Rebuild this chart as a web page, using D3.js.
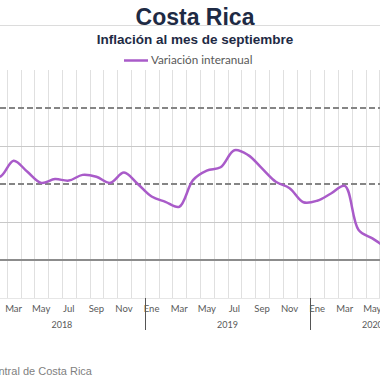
<!DOCTYPE html>
<html>
<head>
<meta charset="utf-8">
<script src="https://cdn.jsdelivr.net/npm/d3@7"></script>
<style>
  body { margin: 0; background: #fff; overflow: hidden; }
  svg { display: block; }
</style>
</head>
<body>
<div id="chart"></div>
<script>
// Months shown on the category axis (Jan 2018 - Sep 2020)
const monthNames = ["Ene", "Feb", "Mar", "Abr", "May", "Jun", "Jul", "Ago", "Sep", "Oct", "Nov", "Dic"];
const years = ["2018", "2019", "2020"];
const monthsPerYear = [12, 12, 9];

// Variación interanual (%)
const inflation = [
  2.35, 2.19, 2.61, 2.32, 2.03, 2.13, 2.09, 2.24, 2.19, 2.03, 2.30, 2.00,
  1.67, 1.53, 1.40, 2.10, 2.35, 2.44, 2.89, 2.76, 2.41, 2.06, 1.89, 1.52,
  1.56, 1.75, 1.95, 0.79, 0.57, 0.35, 0.30, 0.25, 0.30
];

// Target band lines and y-axis gridlines
const targetLines = [2, 4];
const gridValues = [-1, 1, 3];

function init() {
  const width = 380, height = 380;

  const svg = d3.select("#chart")
    .append("svg")
    .attr("width", width)
    .attr("height", height);

  // Build category keys
  const cats = [];
  years.forEach((y, yi) => {
    for (let m = 0; m < monthsPerYear[yi]; m++) {
      cats.push({ key: y + "-" + m, month: m, year: y });
    }
  });

  // Chart is wider than the visible window (cropped at both sides)
  const x = d3.scaleBand()
    .domain(cats.map(d => d.key))
    .range([-20.9, -20.9 + cats.length * 13.8])
    .padding(0);

  const y = d3.scaleLinear()
    .domain([-1, 5])
    .range([298, 70]);

  // thin separator line at top
  svg.append("line")
    .attr("x1", 0).attr("x2", width)
    .attr("y1", 25.5).attr("y2", 25.5)
    .style("stroke", "#dcdcdc")
    .style("stroke-width", 1);

  // vertical gridlines at each month boundary
  const bounds = cats.map(d => x(d.key)).concat([x(cats[cats.length - 1].key) + x.bandwidth()]);
  svg.selectAll(".vgrid")
    .data(bounds)
    .enter()
    .append("line")
    .attr("class", "vgrid")
    .attr("x1", d => Math.round(d) + 0.5)
    .attr("x2", d => Math.round(d) + 0.5)
    .attr("y1", y(5))
    .attr("y2", y(-1))
    .style("stroke", "#e0e0e0")
    .style("stroke-width", 1);

  // horizontal gridlines
  svg.selectAll(".hgrid")
    .data(gridValues)
    .enter()
    .append("line")
    .attr("class", "hgrid")
    .attr("x1", 0).attr("x2", width)
    .attr("y1", d => Math.round(y(d)) + 0.5)
    .attr("y2", d => Math.round(y(d)) + 0.5)
    .style("stroke", d => d === -1 ? "#e6e6e6" : "#c8c8c8")
    .style("stroke-width", 1);

  // dashed target lines
  svg.selectAll(".target")
    .data(targetLines)
    .enter()
    .append("line")
    .attr("class", "target")
    .attr("x1", 0).attr("x2", width)
    .attr("y1", d => y(d))
    .attr("y2", d => y(d))
    .style("stroke", "#858585")
    .style("stroke-width", 2)
    .style("stroke-dasharray", "6,3");

  // zero line
  svg.append("line")
    .attr("x1", 0).attr("x2", width)
    .attr("y1", y(0)).attr("y2", y(0))
    .style("stroke", "#8c8c8c")
    .style("stroke-width", 2);

  // inflation line
  const line = d3.line()
    .x((d, i) => x(cats[i].key) + x.bandwidth() / 2)
    .y(d => y(d))
    .curve(d3.curveCatmullRom.alpha(0.5));

  svg.append("path")
    .datum(inflation)
    .attr("d", line)
    .style("fill", "none")
    .style("stroke", "#a95bc9")
    .style("stroke-width", 2.5);

  // month labels (every other month)
  svg.selectAll(".month")
    .data(cats.filter(d => d.month % 2 === 0))
    .enter()
    .append("text")
    .attr("class", "month")
    .attr("x", d => x(d.key) + x.bandwidth() / 2)
    .attr("y", 312)
    .attr("text-anchor", "middle")
    .style("font-family", "Lato, 'DejaVu Sans', sans-serif")
    .style("font-size", "9.5px")
    .style("fill", "#595959")
    .text(d => monthNames[d.month]);

  // year separators
  const yearStarts = cats.filter(d => d.month === 0).slice(1);
  svg.selectAll(".ysep")
    .data(yearStarts)
    .enter()
    .append("line")
    .attr("class", "ysep")
    .attr("x1", d => Math.round(x(d.key)) + 0.5)
    .attr("x2", d => Math.round(x(d.key)) + 0.5)
    .attr("y1", y(-1))
    .attr("y2", 330)
    .style("stroke", "#555")
    .style("stroke-width", 1);

  // year labels
  svg.selectAll(".year")
    .data(years)
    .enter()
    .append("text")
    .attr("class", "year")
    .attr("x", (d, i) => {
      const yc = cats.filter(c => c.year === d);
      return (x(yc[0].key) + x(yc[yc.length - 1].key) + x.bandwidth()) / 2;
    })
    .attr("y", 328)
    .attr("text-anchor", "middle")
    .style("font-family", "Lato, 'DejaVu Sans', sans-serif")
    .style("font-size", "9px")
    .style("fill", "#595959")
    .text(d => d);

  // titles
  svg.append("text")
    .attr("x", 195).attr("y", 25)
    .attr("text-anchor", "middle")
    .style("font-family", "'Liberation Sans', Arial, sans-serif")
    .style("font-weight", "bold")
    .style("font-size", "23px")
    .style("fill", "#1e2a44")
    .text("Costa Rica");

  svg.append("text")
    .attr("x", 195).attr("y", 44)
    .attr("text-anchor", "middle")
    .style("font-family", "'Liberation Sans', Arial, sans-serif")
    .style("font-weight", "bold")
    .style("font-size", "13.5px")
    .style("fill", "#1e2a44")
    .text("Inflación al mes de septiembre");

  // legend
  svg.append("line")
    .attr("x1", 124).attr("x2", 148)
    .attr("y1", 60.5).attr("y2", 60.5)
    .style("stroke", "#a95bc9")
    .style("stroke-width", 2.5);

  svg.append("text")
    .attr("x", 151).attr("y", 64)
    .style("font-family", "Lato, 'DejaVu Sans', sans-serif")
    .style("font-size", "11.7px")
    .style("fill", "#595959")
    .text("Variación interanual");

  // source
  svg.append("text")
    .attr("x", 92).attr("y", 375)
    .attr("text-anchor", "end")
    .style("font-family", "'Liberation Sans', Arial, sans-serif")
    .style("font-size", "11px")
    .style("fill", "#7f7f7f")
    .text("Fuente: Banco Central de Costa Rica");
}

window.onload = init;
</script>
</body>
</html>
